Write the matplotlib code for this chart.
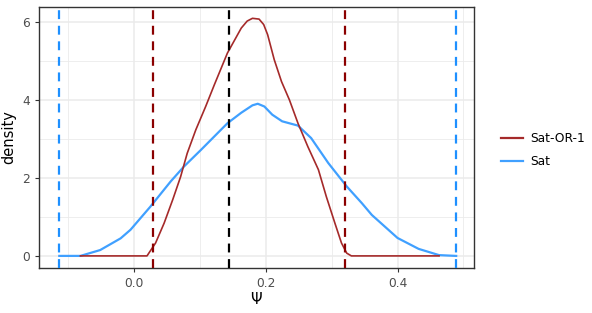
import matplotlib
matplotlib.use("Agg")
import matplotlib.pyplot as plt
from matplotlib.lines import Line2D

# density curves
sat_x = [-0.113, -0.081, -0.051, -0.020, -0.005, 0.025, 0.056, 0.076, 0.102, 0.142,
         0.163, 0.180, 0.188, 0.198, 0.210, 0.225, 0.249, 0.269, 0.295, 0.323,
         0.346, 0.361, 0.400, 0.432, 0.463, 0.489]
sat_y = [0.0, 0.0, 0.15, 0.45, 0.67, 1.26, 1.91, 2.29, 2.72, 3.40,
         3.67, 3.86, 3.90, 3.83, 3.62, 3.45, 3.34, 3.02, 2.38, 1.78,
         1.35, 1.05, 0.46, 0.18, 0.02, 0.0]

or_x = [-0.081, 0.020, 0.033, 0.046, 0.059, 0.071, 0.081, 0.094, 0.109, 0.122,
        0.142, 0.163, 0.172, 0.180, 0.190, 0.197, 0.203, 0.213, 0.224, 0.236,
        0.249, 0.264, 0.280, 0.292, 0.305, 0.315, 0.323, 0.330, 0.463]
or_y = [0.0, 0.0, 0.33, 0.84, 1.44, 2.03, 2.63, 3.23, 3.83, 4.38,
        5.20, 5.84, 6.02, 6.09, 6.07, 5.93, 5.67, 5.03, 4.47, 4.00,
        3.40, 2.80, 2.21, 1.52, 0.84, 0.33, 0.07, 0.0, 0.0]

# reference lines
sat_bounds = [-0.113, 0.489]
or_bounds = [0.0285, 0.321]
center = 0.1444

RED = "#A52A2A"
BLUE = "#40A0FF"

fig = plt.figure(figsize=(5.92, 3.13), dpi=100)
ax = fig.add_axes([39 / 592, 1 - 268 / 313, 435 / 592, 261 / 313])

ax.set_xlim(-0.1438, 0.516)
ax.set_ylim(-0.31, 6.38)

for v in [-0.1, 0.1, 0.3, 0.5]:
    ax.axvline(v, color="#EBEBEB", lw=0.6, zorder=0)
for v in [1, 3, 5]:
    ax.axhline(v, color="#EBEBEB", lw=0.6, zorder=0)
ax.set_xticks([0.0, 0.2, 0.4])
ax.set_xticklabels(["0.0", "0.2", "0.4"])
ax.set_yticks([0, 2, 4, 6])
ax.grid(True, color="#EBEBEB", lw=1.1, zorder=0)
ax.set_axisbelow(True)

ax.plot(sat_x, sat_y, color=BLUE, lw=1.6, zorder=2)
ax.plot(or_x, or_y, color=RED, lw=1.2, zorder=3)

dash = (0, (4, 3))
for v in sat_bounds:
    ax.axvline(v, color="#1E90FF", lw=1.6, ls=dash, zorder=4)
for v in or_bounds:
    ax.axvline(v, color="#8B0000", lw=1.6, ls=dash, zorder=4)
ax.axvline(center, color="black", lw=1.6, ls=dash, zorder=4)

for s in ax.spines.values():
    s.set_color("#333333")
    s.set_linewidth(1.0)
ax.tick_params(colors="#333333", labelcolor="#4D4D4D", labelsize=8.8, length=3, width=0.8)

ax.set_xlabel(r"$\Psi$", fontsize=10.5, labelpad=1)
ax.set_ylabel("density", fontsize=10.5, labelpad=4)

handles = [Line2D([], [], color=RED, lw=1.6), Line2D([], [], color=BLUE, lw=1.6)]
fig.legend(handles, ["Sat-OR-1", "Sat"], loc="center left",
           bbox_to_anchor=(490 / 592, 1 - 150 / 313), frameon=False,
           fontsize=8.8, handlelength=1.8, labelspacing=0.8, handletextpad=0.6)

fig.savefig("out.png", dpi=100)
